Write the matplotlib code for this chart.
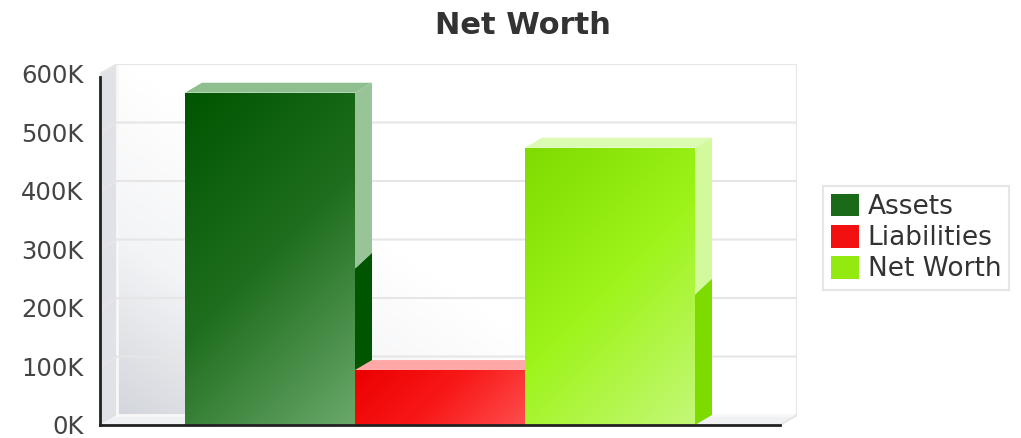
import numpy as np
import matplotlib
matplotlib.use("Agg")
import matplotlib.pyplot as plt
from matplotlib.colors import LinearSegmentedColormap
from matplotlib.patches import Polygon

# data
series = ["Assets", "Liabilities", "Net Worth"]
values = [568000, 94000, 474000]
y_ticks = [0, 100000, 200000, 300000, 400000, 500000, 600000]
y_labels = ["0K", "100K", "200K", "300K", "400K", "500K", "600K"]

# colours per series: front gradient (dark -> light), top face, side light, side dark, legend
front_cols = [["#005500", "#1f6e1f", "#6aa86a"],
              ["#ec0000", "#f81818", "#ff4d4d"],
              ["#7edb00", "#9ef41a", "#c4f878"]]
top_cols = ["#8fbf8f", "#ffa8a8", "#dcfbb2"]
side_light = ["#98c498", "#ffb0b0", "#d2f99c"]
side_dark = ["#005500", "#d00000", "#7edb00"]
legend_cols = ["#1a6a1a", "#f21010", "#92ea10"]

depth_x = 0.1
depth_y = 17000
y_top = 600000
n_slots = 4

fig = plt.figure(figsize=(10.21, 4.38), dpi=100)
W, H = 1021, 438
ax = fig.add_axes([100 / W, 13 / H, 697 / W, 361 / H])
ax.set_xlim(0, n_slots + depth_x)
ax.set_ylim(0, y_top + depth_y)
ax.patch.set_visible(False)

# back wall with soft grey -> white gradient
nx, ny = 200, 100
gx, gy = np.meshgrid(np.linspace(0, 1, nx), np.linspace(1, 0, ny))
t = np.clip((gx * 1.2 + gy * 0.9) * 1.1, 0, 1)
wall_cmap = LinearSegmentedColormap.from_list("wall", ["#d3d6dc", "#f3f4f6", "#ffffff"])
ax.imshow(t, cmap=wall_cmap, vmin=0, vmax=1, extent=[depth_x, n_slots + depth_x, depth_y, y_top + depth_y],
          aspect="auto", zorder=0, interpolation="bilinear")

# left wall and floor
ax.add_patch(Polygon([(0, 0), (depth_x, depth_y), (depth_x, y_top + depth_y), (0, y_top)],
                     closed=True, facecolor="#e0e2e6", edgecolor="none", zorder=0.5))
ax.add_patch(Polygon([(0, 0), (n_slots, 0), (n_slots + depth_x, depth_y), (depth_x, depth_y)],
                     closed=True, facecolor="#f0f1f3", edgecolor="none", zorder=0.5))
ax.plot([depth_x, depth_x], [depth_y, y_top + depth_y], color="#f8f8f8", lw=2, zorder=0.6)
ax.plot([depth_x, n_slots + depth_x], [depth_y, depth_y], color="#f8f8f8", lw=2, zorder=0.6)

# grid lines on the walls
for v in y_ticks[1:]:
    ax.plot([0, depth_x, n_slots + depth_x], [v, v + depth_y, v + depth_y],
            color="#e6e6e6", lw=1.5, zorder=1)
ax.plot([n_slots + depth_x, n_slots + depth_x], [depth_y, y_top + depth_y], color="#e6e6e6", lw=1.5, zorder=1)
ax.plot([n_slots, n_slots + depth_x], [0, depth_y], color="#e6e6e6", lw=1.5, zorder=1)

# bars
for i, (name, val) in enumerate(zip(series, values)):
    z = 3 + i
    xc = i + 1
    bars = ax.bar([xc], [val], width=1.0, color=legend_cols[i], label=name, zorder=z, linewidth=0)
    bar = bars[0]
    x0, x1 = xc - 0.5, xc + 0.5

    # diagonal gradient on the front face
    hp = max(int(val / 100000 * 58.5), 2)
    wp = 170
    gx, gy = np.meshgrid(np.arange(wp), np.arange(hp))
    grad = (gx + gy) / (wp + hp - 2)
    cmap = LinearSegmentedColormap.from_list("f%d" % i, front_cols[i])
    im = ax.imshow(grad, cmap=cmap, vmin=0, vmax=1, extent=[x0, x1, 0, val],
                   aspect="auto", zorder=z + 0.01, interpolation="bilinear")
    im.set_clip_path(bar)

    # top face
    ax.add_patch(Polygon([(x0, val), (x1, val), (x1 + depth_x, val + depth_y), (x0 + depth_x, val + depth_y)],
                         closed=True, facecolor=top_cols[i], edgecolor="none", zorder=z + 0.02))
    # side face: light upper half, dark lower half
    yl = val * 0.47
    yr = yl + depth_y * 1.6
    ax.add_patch(Polygon([(x1, yl), (x1 + depth_x, yr), (x1 + depth_x, val + depth_y), (x1, val)],
                         closed=True, facecolor=side_light[i], edgecolor="none", zorder=z + 0.02))
    ax.add_patch(Polygon([(x1, 0), (x1 + depth_x, depth_y), (x1 + depth_x, yr), (x1, yl)],
                         closed=True, facecolor=side_dark[i], edgecolor="none", zorder=z + 0.02))

ax.set_xlim(0, n_slots + depth_x)
ax.set_ylim(0, y_top + depth_y)

# axes lines
for s in ["top", "right"]:
    ax.spines[s].set_visible(False)
ax.spines["left"].set_bounds(0, 595000)
ax.spines["bottom"].set_bounds(0, n_slots)
for s in ["left", "bottom"]:
    ax.spines[s].set_linewidth(2)
    ax.spines[s].set_color("#222222")
    ax.spines[s].set_zorder(10)
ax.set_xticks([])
ax.set_yticks(y_ticks)
ax.set_yticklabels(y_labels)
ax.tick_params(axis="y", length=0, pad=12, labelsize=17.5, labelcolor="#444444")

fig.text(523 / W, 1 - 25 / H, "Net Worth", ha="center", va="center",
         fontsize=22, fontweight="bold", color="#333333")

leg = fig.legend(loc="center left", bbox_to_anchor=(823 / W, 1 - 238 / H), fontsize=19,
                 frameon=True, fancybox=False, handlelength=1.05, handleheight=0.95,
                 handletextpad=0.35, labelspacing=0.18, borderpad=0.3, borderaxespad=0)
leg.get_frame().set_edgecolor("#e0e0e0")
leg.get_frame().set_linewidth(1.5)
for txt in leg.get_texts():
    txt.set_color("#333333")

fig.savefig("out.png", dpi=100)
